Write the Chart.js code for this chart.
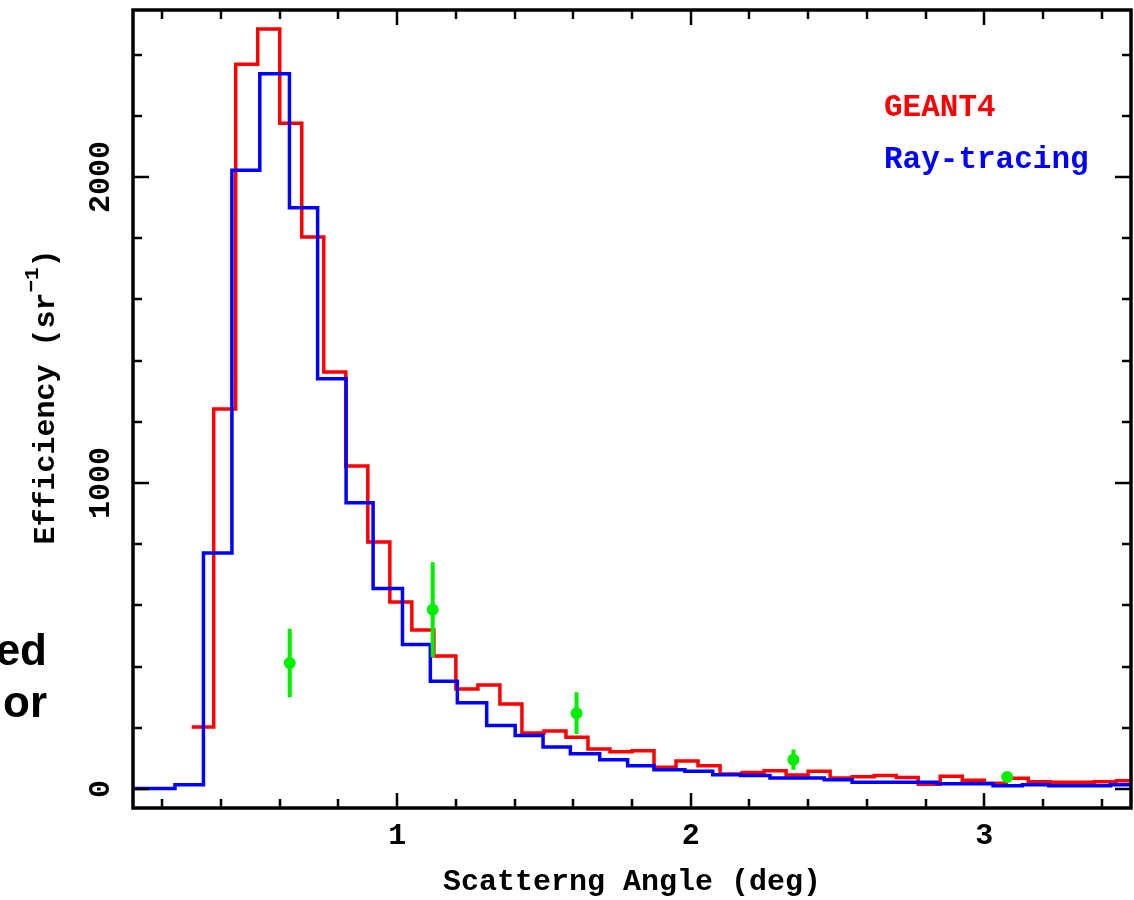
<!DOCTYPE html>
<html>
<head>
<meta charset="utf-8">
<script src="https://cdn.jsdelivr.net/npm/chart.js@4.4.0/dist/chart.umd.min.js"></script>
<style>
  html, body { margin: 0; padding: 0; background: #fff; }
  #wrap { position: relative; width: 1134px; height: 900px; overflow: hidden; }
  #c { position: absolute; left: 0; top: 0; }
  .frag {
    position: absolute; right: 1087px; top: 624px;
    font-family: "Liberation Sans", Arial, sans-serif; font-weight: bold;
    font-size: 44px; line-height: 52px; text-align: right; color: #000;
  }
</style>
</head>
<body>
<div id="wrap">
  <canvas id="c" width="1134" height="900"></canvas>
  <div class="frag">ed<br>or</div>
</div>
<script>
// histogramme GEANT4 (bords des bins + valeurs)
const redEdges = [0.300, 0.375, 0.450, 0.525, 0.600, 0.675, 0.750, 0.825, 0.900, 0.975,
  1.050, 1.125, 1.200, 1.275, 1.350, 1.425, 1.500, 1.575, 1.650, 1.725, 1.800, 1.875,
  1.950, 2.025, 2.100, 2.175, 2.250, 2.325, 2.400, 2.475, 2.550, 2.625, 2.700, 2.775,
  2.850, 2.925, 3.000, 3.075, 3.150, 3.225, 3.300, 3.375, 3.450, 3.525];
const redValues = [203, 1242, 2369, 2484, 2176, 1804, 1363, 1056, 807, 611, 520, 435,
  327, 340, 278, 183, 190, 169, 131, 122, 125, 71, 92, 76, 49, 54, 60, 46, 58, 36, 40,
  44, 38, 16, 42, 29, 19, 35, 24, 22, 22, 24, 27];

// histogramme ray-tracing
const blueEdges = [0.000, 0.243, 0.340, 0.437, 0.532, 0.633, 0.729, 0.826, 0.918, 1.018,
  1.113, 1.205, 1.305, 1.402, 1.497, 1.590, 1.690, 1.785, 1.875, 1.980, 2.075, 2.170,
  2.270, 2.360, 2.455, 2.550, 2.650, 2.740, 2.840, 2.940, 3.030, 3.130, 3.220, 3.320,
  3.430, 3.530];
const blueValues = [2, 14, 771, 2022, 2338, 1900, 1341, 936, 655, 472, 352, 282, 208,
  175, 137, 115, 96, 76, 63, 58, 47, 44, 36, 36, 30, 22, 22, 22, 17, 17, 11, 14, 11, 11, 14];

// points mesurés (vert) avec barres d'erreur
const measX = [0.634, 1.121, 1.611, 2.350, 3.078];
const measY = [412, 586, 248, 96, 39];
const measErr = [112, 155, 68, 33, 0];

// graduations
const xMinorTicks = [0.2, 0.4, 0.6, 0.8, 1.0, 1.2, 1.4, 1.6, 1.8, 2.0, 2.2, 2.4, 2.6, 2.8, 3.0, 3.2, 3.4];
const xMajorTicks = [1, 2, 3];
const yMinorTicks = [0, 200, 400, 600, 800, 1000, 1200, 1400, 1600, 1800, 2000, 2200, 2400];
const yMajorTicks = [0, 1000, 2000];

const legendItems = ['GEANT4', 'Ray-tracing'];
const legendColors = ['#ff0000', '#0000ff'];

// Fonction pour transformer bords + valeurs en points pour une ligne en escalier
function histPoints(edges, values) {
    const pts = values.map((v, i) => ({x: edges[i], y: v}));
    pts.push({x: edges[edges.length - 1], y: values[values.length - 1]});
    return pts;
}

function errorBarPoints(xs, ys, errs) {
    const pts = [];
    xs.forEach((x, i) => {
        pts.push({x: x, y: ys[i] - errs[i]});
        pts.push({x: x, y: ys[i] + errs[i]});
        pts.push({x: x, y: null});
    });
    return pts;
}

const monoFamily = '"Liberation Mono", "DejaVu Sans Mono", monospace';
const axisFont = {family: monoFamily, weight: 'bold', size: 30};

// cadre avec graduations vers l'intérieur, étiquettes, titre Y et légende
const framePlugin = {
    id: 'frame',
    afterDatasetsDraw(chart) {
        const {ctx, chartArea: a, scales} = chart;
        const x = scales.x, y = scales.y;
        ctx.save();
        ctx.strokeStyle = '#000';
        ctx.lineWidth = 2.5;
        ctx.beginPath();
        xMinorTicks.forEach(v => {
            const px = Math.round(x.getPixelForValue(v));
            const len = xMajorTicks.some(m => Math.abs(m - v) < 1e-6) ? 15 : 9;
            ctx.moveTo(px, a.bottom); ctx.lineTo(px, a.bottom - len);
            ctx.moveTo(px, a.top); ctx.lineTo(px, a.top + len);
        });
        yMinorTicks.forEach(v => {
            const py = Math.round(y.getPixelForValue(v));
            const len = yMajorTicks.includes(v) ? 16 : 9;
            ctx.moveTo(a.left, py); ctx.lineTo(a.left + len, py);
            ctx.moveTo(a.right, py); ctx.lineTo(a.right - len, py);
        });
        ctx.stroke();
        ctx.lineWidth = 3.5;
        ctx.strokeRect(a.left, a.top, a.right - a.left, a.bottom - a.top);

        // étiquettes des graduations
        ctx.fillStyle = '#000';
        ctx.font = 'bold 30px ' + monoFamily;
        ctx.textAlign = 'center';
        ctx.textBaseline = 'middle';
        xMajorTicks.forEach(v => {
            ctx.fillText(String(v), x.getPixelForValue(v), 836);
        });
        yMajorTicks.forEach(v => {
            ctx.save();
            ctx.translate(101, y.getPixelForValue(v));
            ctx.rotate(-Math.PI / 2);
            ctx.fillText(String(v), 0, 0);
            ctx.restore();
        });

        // titre de l'axe Y avec exposant
        const parts = [
            {t: 'Efficiency (sr', size: 30, dy: 0},
            {t: '\u22121', size: 21, dy: -13},
            {t: ')', size: 30, dy: 0}
        ];
        let total = 0;
        parts.forEach(p => { ctx.font = 'bold ' + p.size + 'px ' + monoFamily; p.w = ctx.measureText(p.t).width; total += p.w; });
        ctx.save();
        ctx.translate(46, 397);
        ctx.rotate(-Math.PI / 2);
        ctx.textAlign = 'left';
        ctx.textBaseline = 'middle';
        let cx = -total / 2;
        parts.forEach(p => {
            ctx.font = 'bold ' + p.size + 'px ' + monoFamily;
            ctx.fillText(p.t, cx, p.dy);
            cx += p.w;
        });
        ctx.restore();

        // légende
        ctx.font = 'bold 31px ' + monoFamily;
        ctx.textBaseline = 'middle';
        ctx.textAlign = 'left';
        legendItems.forEach((t, i) => {
            ctx.fillStyle = legendColors[i];
            ctx.fillText(t, 884, 108 + i * 52);
        });
        ctx.restore();
    }
};

new Chart(document.getElementById('c'), {
    type: 'line',
    data: {
        datasets: [
            {
                label: 'mesure',
                type: 'scatter',
                data: measX.map((x, i) => ({x: x, y: measY[i]})),
                pointRadius: 6,
                pointBackgroundColor: '#00ee00',
                pointBorderWidth: 0,
                order: 0
            },
            {
                label: 'erreur',
                data: errorBarPoints(measX, measY, measErr),
                borderColor: '#00ee00',
                borderWidth: 4,
                pointRadius: 0,
                spanGaps: false,
                order: 0
            },
            {
                label: 'Ray-tracing',
                data: histPoints(blueEdges, blueValues),
                borderColor: '#0000ff',
                borderWidth: 3.5,
                pointRadius: 0,
                stepped: true,
                fill: false,
                order: 1
            },
            {
                label: 'GEANT4',
                data: histPoints(redEdges, redValues),
                borderColor: '#ff0000',
                borderWidth: 3.5,
                pointRadius: 0,
                stepped: true,
                fill: false,
                order: 2
            }
        ]
    },
    options: {
        responsive: false,
        animation: false,
        devicePixelRatio: 1,
        layout: {autoPadding: false, padding: {top: 10, right: 3, left: 0, bottom: 0}},
        plugins: {legend: {display: false}, tooltip: {enabled: false}},
        scales: {
            x: {
                type: 'linear',
                min: 0.1,
                max: 3.5,
                grid: {display: false, drawTicks: false},
                border: {display: false},
                ticks: {display: false, stepSize: 0.2},
                title: {display: true, text: 'Scatterng Angle (deg)', color: '#000', font: axisFont, padding: {top: 0, bottom: 0}},
                afterFit: s => { s.height = 92; }
            },
            y: {
                type: 'linear',
                min: -62,
                max: 2546,
                grid: {display: false, drawTicks: false},
                border: {display: false},
                ticks: {display: false, stepSize: 200},
                title: {display: false},
                afterFit: s => { s.width = 133; }
            }
        }
    },
    plugins: [framePlugin]
});
</script>
</body>
</html>
